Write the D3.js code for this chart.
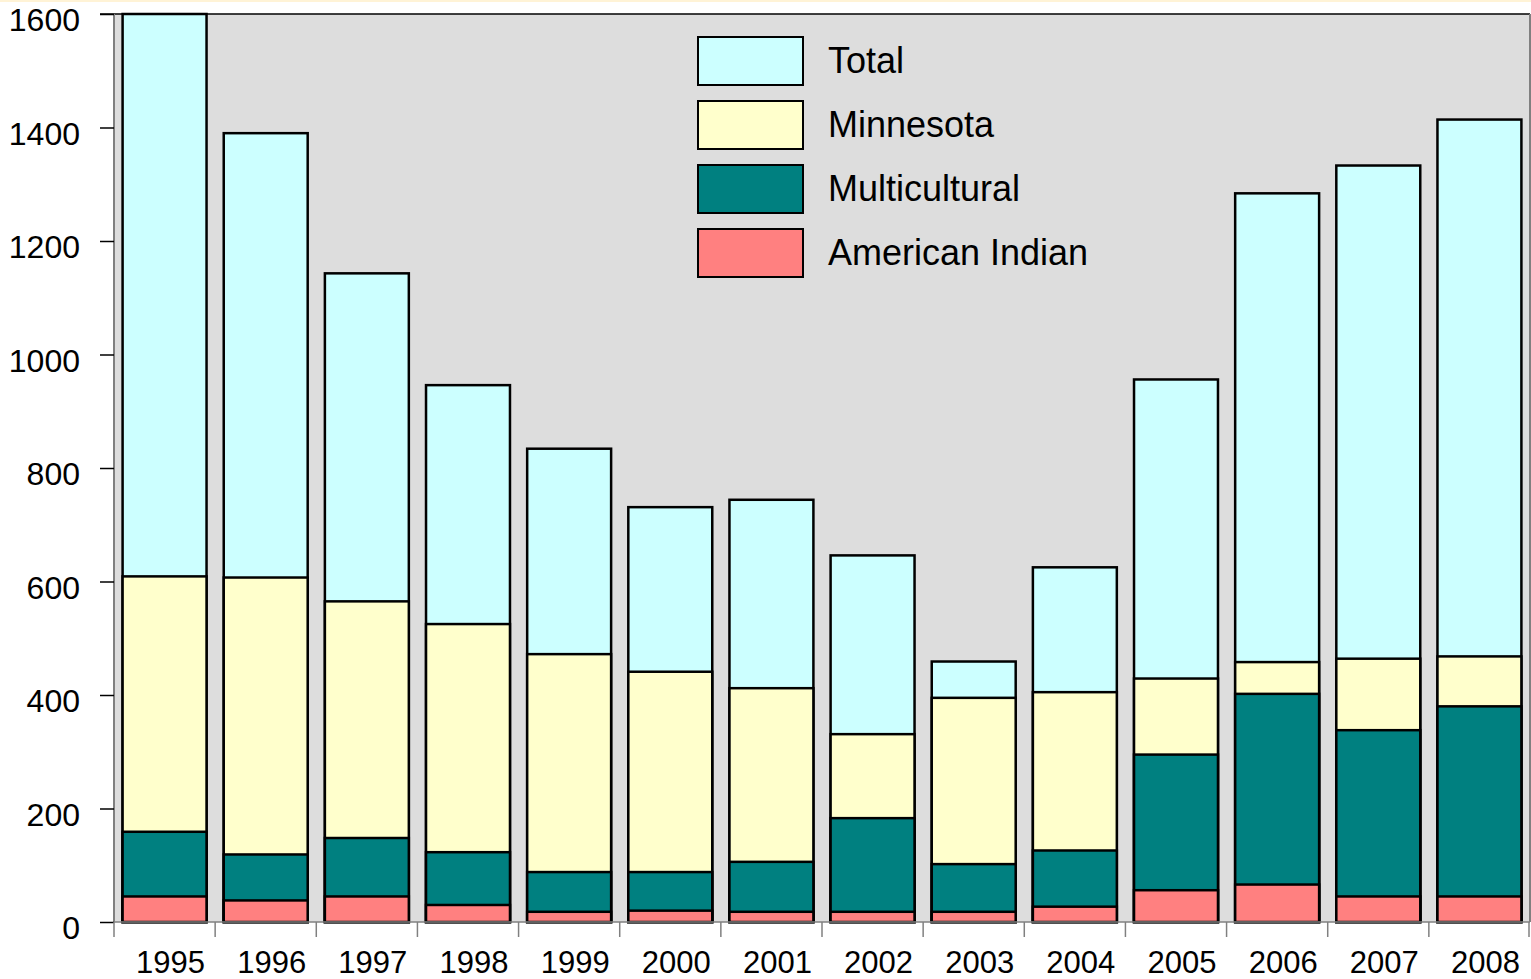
<!DOCTYPE html>
<html lang="en">
<head>
<meta charset="UTF-8">
<title>Scholarship recipients 1995-2008</title>
<script src="https://d3js.org/d3.v7.min.js"></script>
<style>
    body { margin: 0; background: #ffffff; font-family: Arial, "Liberation Sans", sans-serif; }
    svg text { font-family: Arial, "Liberation Sans", sans-serif; fill: #000; }
</style>
</head>
<body>
<svg id="chart" width="1531" height="979"></svg>
<script>
    const years = ["1995","1996","1997","1998","1999","2000","2001","2002","2003","2004","2005","2006","2007","2008"];
    const total = [1600, 1390, 1143, 946, 834, 731, 744, 646, 459, 625, 956, 1284, 1333, 1414];
    const minnesota = [609, 607, 565, 525, 472, 441, 412, 331, 395, 405, 429, 458, 464, 468];
    const multicultural = [159, 119, 148, 123, 88, 88, 106, 183, 102, 126, 295, 402, 338, 380];
    const americanIndian = [45, 38, 45, 30, 18, 20, 18, 18, 18, 27, 56, 66, 45, 45];
    const yTicks = [0, 200, 400, 600, 800, 1000, 1200, 1400, 1600];

    const series = [
        { name: "Total", values: total, color: "#CCFFFF" },
        { name: "Minnesota", values: minnesota, color: "#FFFFCC" },
        { name: "Multicultural", values: multicultural, color: "#008080" },
        { name: "American Indian", values: americanIndian, color: "#FF8080" }
    ];

    const svg = d3.select("#chart");
    const plotLeft = 114, plotRight = 1530, plotTop = 14, plotBottom = 922;

    const x = d3.scaleBand().domain(years).range([plotLeft, plotRight])
        .paddingInner(0.17).paddingOuter(0.085);
    const y = d3.scaleLinear().domain([0, 1600]).range([plotBottom, plotTop]);

    // thin cream strip along the top edge
    svg.append("rect").attr("x", 0).attr("y", 0).attr("width", 1531).attr("height", 2)
        .attr("fill", "#FFF3D6");

    // plot area
    svg.append("rect")
        .attr("x", plotLeft).attr("y", plotTop)
        .attr("width", plotRight - plotLeft).attr("height", plotBottom - plotTop)
        .attr("fill", "#DDDDDD");

    // bars, each drawn from zero, tallest first
    series.forEach(s => {
        svg.append("g")
            .selectAll("rect")
            .data(years)
            .enter().append("rect")
            .attr("x", d => x(d))
            .attr("width", x.bandwidth())
            .attr("y", (d, i) => y(s.values[i]))
            .attr("height", (d, i) => y(0) - y(s.values[i]))
            .attr("fill", s.color)
            .attr("stroke", "#000")
            .attr("stroke-width", 2.5);
    });

    // borders
    svg.append("line").attr("x1", 100).attr("x2", plotRight).attr("y1", plotTop).attr("y2", plotTop)
        .attr("stroke", "#000").attr("stroke-width", 1.5);
    svg.append("line").attr("x1", plotRight).attr("x2", plotRight).attr("y1", plotTop).attr("y2", plotBottom)
        .attr("stroke", "#808080").attr("stroke-width", 2);
    svg.append("line").attr("x1", plotLeft).attr("x2", plotRight).attr("y1", plotBottom).attr("y2", plotBottom)
        .attr("stroke", "#808080").attr("stroke-width", 1.5);
    svg.append("line").attr("x1", plotLeft).attr("x2", plotLeft).attr("y1", plotTop).attr("y2", plotBottom)
        .attr("stroke", "#808080").attr("stroke-width", 2);

    // y axis
    const yAxis = svg.append("g")
        .attr("transform", `translate(${plotLeft},0)`)
        .call(d3.axisLeft(y).tickValues(yTicks).tickFormat(d3.format("d"))
            .tickSize(14).tickPadding(20));
    yAxis.select(".domain").remove();
    yAxis.selectAll(".tick line").attr("stroke", "#000").attr("stroke-width", 1.5);
    yAxis.selectAll(".tick text").attr("font-size", 32).attr("dy", "0.52em");

    // x axis: tick marks at category boundaries, labels centred under bars
    const bounds = years.map(d => x(d) - x.step() * x.paddingInner() / 2);
    bounds.push(plotRight - 1);
    svg.append("g").selectAll("line")
        .data(bounds)
        .enter().append("line")
        .attr("x1", d => d).attr("x2", d => d)
        .attr("y1", plotBottom).attr("y2", plotBottom + 15)
        .attr("stroke", "#808080").attr("stroke-width", 1.5);

    svg.append("g").selectAll("text")
        .data(years)
        .enter().append("text")
        .attr("x", d => x(d) + x.bandwidth() / 2 + 6)
        .attr("y", 973)
        .attr("text-anchor", "middle")
        .attr("font-size", 31)
        .text(d => d);

    // legend
    const legend = svg.append("g").attr("transform", "translate(698,37)");
    series.forEach((s, i) => {
        legend.append("rect")
            .attr("x", 0).attr("y", i * 64)
            .attr("width", 105).attr("height", 48)
            .attr("fill", s.color)
            .attr("stroke", "#000").attr("stroke-width", 2);
        legend.append("text")
            .attr("x", 130).attr("y", i * 64 + 36)
            .attr("font-size", 36)
            .text(s.name);
    });
</script>
</body>
</html>
